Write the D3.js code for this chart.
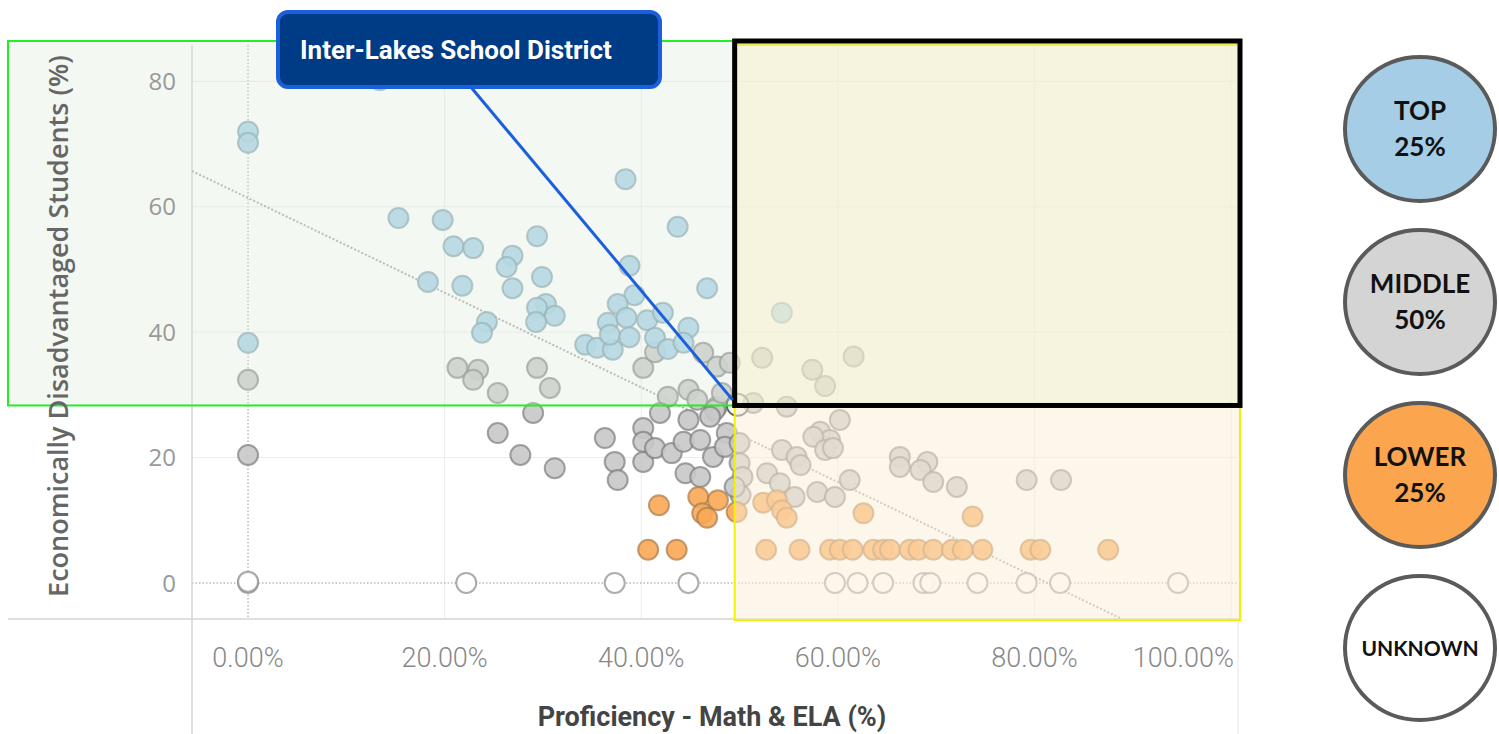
<!DOCTYPE html>
<html>
<head>
<meta charset="utf-8">
<script src="https://cdn.jsdelivr.net/npm/d3@7/dist/d3.min.js"></script>
<style>
  body { margin: 0; background: #fff; }
  svg { display: block; }
</style>
</head>
<body>
<div id="chart"></div>
<script>
// district points, [proficiency %, econ. disadvantaged %]
var topPts = [[0,72],[0,70.2],[0,38.3],[13.4,80.2],[15.3,58.2],[19.8,57.9],[20.9,53.7],[22.9,53.4],[18.3,48.0],
  [21.8,47.4],[29.4,55.3],[26.9,52.2],[26.3,50.4],[26.9,47.0],[29.9,48.8],[38.4,64.4],[43.7,56.8],[46.7,47.0],
  [38.8,50.6],[30.3,44.5],[29.4,43.9],[31.2,42.6],[29.3,41.6],[24.3,41.6],[23.8,39.9],[39.3,45.9],[37.6,44.5],
  [36.6,41.5],[38.5,42.3],[40.6,41.9],[42.2,43.1],[44.8,40.7],[34.3,38.0],[35.5,37.5],[37.1,37.2],[36.8,39.6],
  [38.8,39.2],[41.4,39.1],[42.7,37.3],[44.3,38.3],[54.3,43.1]];
var midPts = [[0,32.4],[0,20.4],[21.3,34.3],[23.4,34.0],[22.9,32.4],[25.4,30.3],[29.4,34.3],[30.7,31.1],[40.2,34.3],
  [41.4,36.8],[46.3,36.7],[47.7,34.5],[49.0,35.1],[42.7,29.7],[44.8,30.8],[45.7,29.2],[47.7,28.1],[29.0,27.1],
  [25.4,23.9],[27.7,20.4],[31.2,18.3],[36.3,23.1],[37.3,19.3],[37.6,16.4],[40.2,24.7],[40.2,22.5],[40.2,19.3],
  [41.9,27.1],[41.4,21.5],[43.1,20.7],[44.3,22.5],[44.5,17.5],[44.8,26.0],[46.0,22.8],[46.0,16.9],[47.3,20.1],
  [47.5,27.6],[47.0,26.5],[48.7,23.9],[48.5,21.7],[50.0,22.3],[50.0,19.1],[50.3,16.9],[50.1,14.0],[48.2,30.3],
  [49.5,15.3],[52.3,35.9],[57.4,34.0],[58.7,31.4],[61.6,36.1],[54.8,28.1],[51.4,28.7],[60.2,26.0],[58.2,24.1],
  [59.2,22.8],[57.5,23.3],[58.7,21.2],[59.5,21.5],[54.3,21.2],[55.8,20.1],[56.2,18.8],[52.8,17.5],[54.1,15.9],
  [55.6,13.7],[57.9,14.5],[59.7,13.7],[61.2,16.4],[66.3,20.1],[66.3,18.5],[69.1,19.3],[68.4,18.0],[69.7,16.1],
  [72.1,15.3],[79.2,16.4],[82.7,16.4]];
var lowPts = [[41.8,12.4],[45.8,13.7],[47.8,13.2],[46.2,11.1],[46.7,10.4],[49.7,11.3],[52.4,12.8],[53.8,13.2],
  [54.3,11.6],[54.8,10.4],[62.6,11.1],[73.7,10.6],[40.7,5.3],[43.6,5.3],[52.7,5.3],[56.1,5.3],[59.2,5.3],
  [60.2,5.3],[61.5,5.3],[63.6,5.3],[64.6,5.3],[65.3,5.3],[67.3,5.3],[68.2,5.3],[69.7,5.3],[71.6,5.3],[72.7,5.3],
  [74.7,5.3],[79.6,5.3],[80.6,5.3],[87.5,5.3]];
var unkPts = [[0,0],[0,0.2],[22.2,0],[37.3,0],[44.8,0],[59.7,0],[62.0,0],[64.6,0],[68.7,0],[69.4,0],[74.2,0],
  [79.2,0],[82.6,0],[94.6,0]];
var highlight = [49.8, 28.4];
var highlightName = "Inter-Lakes School District";

var xTicks = [0, 20, 40, 60, 80, 100];
var yTicks = [0, 20, 40, 60, 80];
var trend = [[-5.7, 65.7], [88.7, -5.6]];
var xMid = 49.5, yMid = 28.3;

var legendItems = [
  {lines: ["TOP", "25%"], fill: "#a6cde6"},
  {lines: ["MIDDLE", "50%"], fill: "#d4d4d4"},
  {lines: ["LOWER", "25%"], fill: "#fba54f"},
  {lines: ["UNKNOWN"], fill: "#ffffff"}
];

var W = 1499, H = 734;
var svg = d3.select("#chart").append("svg").attr("width", W).attr("height", H);

var x = d3.scaleLinear().domain([-5.7, 100.7]).range([192, 1238]);
var y = d3.scaleLinear().domain([-5.6, 85.8]).range([618, 45]);

// gridlines
var grid = svg.append("g");
grid.selectAll(".gx").data(xTicks).enter().append("line")
  .attr("x1", d => x(d)).attr("x2", d => x(d)).attr("y1", 45).attr("y2", 618)
  .attr("stroke", d => d === 0 ? "#bbb" : "#ececec")
  .attr("stroke-width", d => d === 0 ? 1.5 : 1)
  .attr("stroke-dasharray", d => d === 0 ? "1.5,2" : null);
grid.selectAll(".gy").data(yTicks).enter().append("line")
  .attr("x1", 192).attr("x2", 1238).attr("y1", d => y(d)).attr("y2", d => y(d))
  .attr("stroke", d => d === 0 ? "#bbb" : "#ececec")
  .attr("stroke-width", d => d === 0 ? 1.5 : 1)
  .attr("stroke-dasharray", d => d === 0 ? "1.5,2" : null);

// frame lines
svg.append("line").attr("x1", 192).attr("x2", 192).attr("y1", 45).attr("y2", H).attr("stroke", "#d4d4d4").attr("stroke-width", 1.5);
svg.append("line").attr("x1", 1238).attr("x2", 1238).attr("y1", 618).attr("y2", H).attr("stroke", "#e4e4e4");
svg.append("line").attr("x1", 8).attr("x2", 1238).attr("y1", 619).attr("y2", 619).attr("stroke", "#d4d4d4").attr("stroke-width", 1.5);

// trend line
svg.append("line")
  .attr("x1", x(trend[0][0])).attr("y1", y(trend[0][1]))
  .attr("x2", x(trend[1][0])).attr("y2", y(trend[1][1]))
  .attr("stroke", "#aaa").attr("stroke-width", 2).attr("stroke-dasharray", "2,2");

// points
function drawPts(data, fill, stroke) {
  svg.append("g").selectAll("circle").data(data).enter().append("circle")
    .attr("cx", d => x(d[0])).attr("cy", d => y(d[1])).attr("r", 10)
    .attr("fill", fill).attr("fill-opacity", 0.9)
    .attr("stroke", stroke).attr("stroke-width", 2).attr("stroke-opacity", 0.7);
}
drawPts(unkPts, "#ffffff", "#8a8a8a");
drawPts(midPts, "#c8c8c8", "#7c7c7c");
drawPts(lowPts, "#f9a855", "#a87a4a");
drawPts(topPts, "#a4d0e8", "#7a9aa8");
svg.append("circle").attr("cx", x(highlight[0])).attr("cy", y(highlight[1])).attr("r", 11)
  .attr("fill", "#e8e8e8").attr("fill-opacity", 0.4).attr("stroke", "#666").attr("stroke-width", 2);

// quadrant overlays
svg.append("rect").attr("x", 8).attr("y", 41)
  .attr("width", x(xMid) - 8).attr("height", y(yMid) - 41)
  .attr("fill", "#dde9d6").attr("fill-opacity", 0.32)
  .attr("stroke", "#22ee22").attr("stroke-width", 2);
svg.append("rect").attr("x", x(xMid)).attr("y", 45)
  .attr("width", 1240 - x(xMid)).attr("height", 575)
  .attr("fill", "#fbf0d8").attr("fill-opacity", 0.5)
  .attr("stroke", "#f2f200").attr("stroke-width", 2);
svg.append("rect").attr("x", x(xMid)).attr("y", 41)
  .attr("width", 1240 - x(xMid)).attr("height", y(yMid) - 41)
  .attr("fill", "#e8ecc8").attr("fill-opacity", 0.35)
  .attr("stroke", "#000").attr("stroke-width", 5);

// axes labels
svg.append("g").selectAll("text").data(yTicks).enter().append("text")
  .attr("x", 176).attr("y", d => y(d)).attr("dy", "0.36em")
  .attr("text-anchor", "end")
  .style("font-family", "'Open Sans', sans-serif").style("font-size", "24px").style("fill", "#999")
  .text(d => d);

svg.append("g").selectAll("text").data(xTicks).enter().append("text")
  .attr("x", d => d === 100 ? 1234 : x(d)).attr("y", 667)
  .attr("text-anchor", d => d === 100 ? "end" : "middle")
  .style("font-family", "Roboto, sans-serif").style("font-size", "27px").style("font-weight", 300)
  .style("fill", "#888")
  .text(d => d3.format(".2f")(d) + "%");

svg.append("text")
  .attr("transform", "translate(68,326) rotate(-90)")
  .attr("text-anchor", "middle")
  .style("font-family", "'Open Sans', sans-serif").style("font-size", "27px").style("font-weight", 600)
  .style("fill", "#666")
  .text("Economically Disadvantaged Students (%)");

svg.append("text")
  .attr("x", 712).attr("y", 726).attr("text-anchor", "middle")
  .style("font-family", "Roboto, sans-serif").style("font-size", "27px")
  .style("font-weight", "bold").style("fill", "#444")
  .text("Proficiency - Math & ELA (%)");

// callout
svg.append("line").attr("x1", 470).attr("y1", 86)
  .attr("x2", x(highlight[0]) - 5).attr("y2", y(highlight[1]) - 5)
  .attr("stroke", "#1a5fdc").attr("stroke-width", 3);
svg.append("rect").attr("x", 278).attr("y", 12).attr("width", 382).attr("height", 75).attr("rx", 10)
  .attr("fill", "#003b85").attr("stroke", "#1a5fdc").attr("stroke-width", 4);
svg.append("text").attr("x", 300).attr("y", 59)
  .style("font-family", "Roboto, sans-serif").style("font-size", "26px").style("font-weight", "bold")
  .style("fill", "#fff")
  .text(highlightName);

// legend
var leg = svg.append("g").selectAll("g").data(legendItems).enter().append("g")
  .attr("transform", (d, i) => "translate(1420," + (129 + i * 173) + ")");
leg.append("ellipse").attr("rx", 75).attr("ry", 72)
  .attr("fill", d => d.fill).attr("stroke", "#5a5a5a").attr("stroke-width", 4);
leg.each(function(d) {
  var g = d3.select(this);
  var n = d.lines.length;
  d.lines.forEach(function(t, j) {
    g.append("text").attr("x", 0).attr("y", (j - (n - 1) / 2) * 36).attr("dy", "0.36em")
      .attr("text-anchor", "middle")
      .style("font-family", "Lato, sans-serif").style("font-weight", "bold")
      .style("font-size", n === 1 ? "21px" : "26px").style("fill", "#111")
      .text(t);
  });
});
</script>
</body>
</html>
